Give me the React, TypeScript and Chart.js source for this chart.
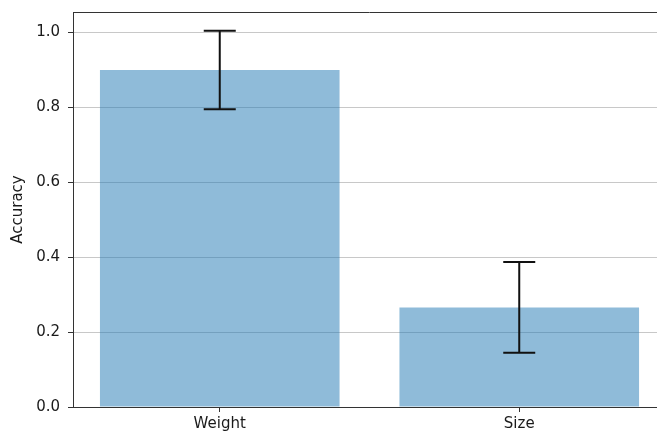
import React, { useEffect, useRef } from "react";
import { Chart, registerables } from "chart.js";

Chart.register(...registerables);

const categories = ["Weight", "Size"];
const categoryPositions = [0, 1];
const accuracyValues = [0.9, 0.266];
const accuracyErrors = [0.105, 0.121];
const yTickValues = [0, 0.2, 0.4, 0.6, 0.8, 1.0];

const CANVAS_W = 676;
const CANVAS_H = 432;

const errorBarPlugin = {
  id: "errorBars",
  afterDatasetsDraw(chart: any) {
    const ctx = chart.ctx;
    const xs = chart.scales.x;
    const ys = chart.scales.y;
    ctx.save();
    ctx.strokeStyle = "#111111";
    ctx.lineWidth = 2;
    ctx.lineCap = "butt";
    for (let i = 0; i < accuracyValues.length; i++) {
      const x = xs.getPixelForValue(categoryPositions[i]);
      const yt = ys.getPixelForValue(accuracyValues[i] + accuracyErrors[i]);
      const yb = ys.getPixelForValue(accuracyValues[i] - accuracyErrors[i]);
      const cap = 16;
      ctx.beginPath();
      ctx.moveTo(x, yt);
      ctx.lineTo(x, yb);
      ctx.moveTo(x - cap, yt);
      ctx.lineTo(x + cap, yt);
      ctx.moveTo(x - cap, yb);
      ctx.lineTo(x + cap, yb);
      ctx.stroke();
    }
    ctx.restore();
  },
};

const topSpinePlugin = {
  id: "topSpine",
  afterDraw(chart: any) {
    const { ctx, chartArea } = chart;
    ctx.save();
    ctx.strokeStyle = "#333333";
    ctx.lineWidth = 1;
    ctx.beginPath();
    ctx.moveTo(chartArea.left, chartArea.top + 0.5);
    ctx.lineTo(chartArea.right, chartArea.top + 0.5);
    ctx.moveTo(chartArea.right - 0.5, chartArea.top);
    ctx.lineTo(chartArea.right - 0.5, chartArea.bottom);
    ctx.stroke();
    ctx.restore();
  },
};

export default function App() {
  const ref = useRef<HTMLCanvasElement | null>(null);

  useEffect(() => {
    if (!ref.current) return;
    Chart.defaults.font.family = "'DejaVu Sans', sans-serif";
    const chart = new Chart(ref.current, {
      type: "bar",
      data: {
        datasets: [
          {
            data: categoryPositions.map((x, i) => ({ x, y: accuracyValues[i] })),
            backgroundColor: "rgba(31,119,180,0.5)",
            borderWidth: 0,
            barPercentage: 0.8,
            categoryPercentage: 1.0,
          },
        ],
      },
      options: {
        animation: false,
        responsive: false,
        devicePixelRatio: 1,
        layout: { padding: { left: 0, top: 12, right: CANVAS_W - 666, bottom: 0 } },
        plugins: {
          legend: { display: false },
          tooltip: { enabled: false },
        },
        scales: {
          x: {
            type: "linear",
            min: -0.49,
            max: 1.49,
            offset: false,
            afterBuildTicks: (scale: any) => {
              scale.ticks = categoryPositions.map((v) => ({ value: v }));
            },
            afterFit: (scale: any) => {
              scale.height = CANVAS_H - 407;
              scale.paddingLeft = 0;
              scale.paddingRight = 0;
            },
            ticks: {
              autoSkip: false,
              maxRotation: 0,
              padding: 3,
              color: "#1a1a1a",
              font: { size: 15 },
              callback: (v: any) => {
                const idx = categoryPositions.indexOf(Number(v));
                return idx >= 0 ? categories[idx] : "";
              },
            },
            grid: {
              display: true,
              offset: false,
              drawOnChartArea: false,
              drawTicks: true,
              tickLength: 5,
              color: "#333333",
            },
            border: { display: true, color: "#333333", width: 1 },
          },
          y: {
            min: 0,
            max: 1.055,
            afterBuildTicks: (scale: any) => {
              scale.ticks = yTickValues.map((v) => ({ value: v }));
            },
            afterFit: (scale: any) => {
              scale.width = 73;
              scale.paddingTop = 0;
              scale.paddingBottom = 0;
            },
            ticks: {
              padding: 8,
              color: "#1a1a1a",
              font: { size: 15 },
              callback: (v: any) => Number(v).toFixed(1),
            },
            grid: {
              display: true,
              drawOnChartArea: true,
              drawTicks: true,
              tickLength: 5,
              color: "#c8c8c8",
              tickColor: "#333333",
            },
            border: { display: true, color: "#333333", width: 1 },
            title: {
              display: true,
              text: "Accuracy",
              color: "#1a1a1a",
              font: { size: 15 },
              padding: { top: 9, bottom: 0 },
            },
          },
        },
      },
      plugins: [errorBarPlugin, topSpinePlugin],
    } as any);
    return () => chart.destroy();
  }, []);

  return (
    <div
      style={{
        position: "fixed",
        left: 0,
        top: 0,
        width: 657,
        height: 432,
        overflow: "hidden",
        background: "#ffffff",
      }}
    >
      <canvas
        ref={ref}
        width={CANVAS_W}
        height={CANVAS_H}
        style={{ display: "block", width: CANVAS_W, height: CANVAS_H }}
      />
    </div>
  );
}
